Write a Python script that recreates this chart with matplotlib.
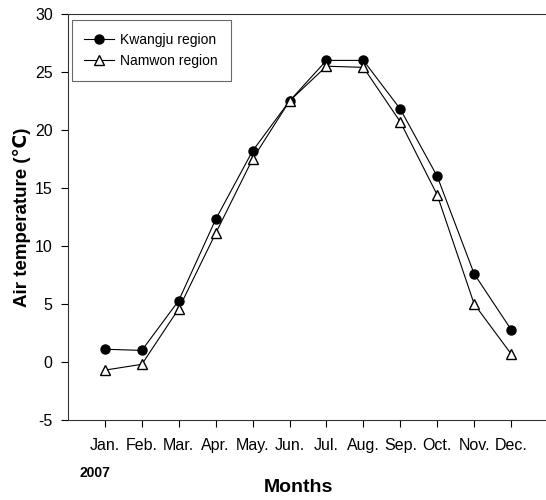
import matplotlib
matplotlib.use("Agg")
import matplotlib.pyplot as plt

plt.rcParams['font.family'] = ['Liberation Sans', 'DejaVu Sans']

months = ["Jan.", "Feb.", "Mar.", "Apr.", "May.", "Jun.", "Jul.", "Aug.", "Sep.", "Oct.", "Nov.", "Dec."]
kwangju = [1.1, 1.0, 5.3, 12.3, 18.2, 22.5, 26.0, 26.0, 21.8, 16.0, 7.6, 2.8]
namwon = [-0.7, -0.2, 4.6, 11.1, 17.5, 22.5, 25.5, 25.4, 20.7, 14.4, 5.0, 0.7]
yticks = [-5, 0, 5, 10, 15, 20, 25, 30]

fig = plt.figure(figsize=(5.46, 5.0), dpi=100)
ax = fig.add_axes([68/546, 80/500, 480/546, 406/500])

x = list(range(1, len(months) + 1))
ax.plot(x, kwangju, color='black', lw=0.8, marker='o', ms=6.5,
        mfc='black', mec='black', label='Kwangju region')
ax.plot(x, namwon, color='black', lw=0.8, marker='^', ms=7,
        mfc='white', mec='black', mew=1.0, label='Namwon region')

ax.set_xlim(0, 13)
ax.set_ylim(-5, 30)
ax.set_xticks(x)
ax.set_xticklabels(months, fontsize=11.5)
ax.set_yticks(yticks)
ax.set_yticklabels([str(v) for v in yticks], fontsize=11.5)
ax.tick_params(direction='out', length=5, width=0.8, color='black', pad=8)
ax.tick_params(axis='y', pad=6)
for s in ax.spines.values():
    s.set_linewidth(0.8)
    s.set_color('#333333')
ax.spines['right'].set_visible(False)

ax.set_ylabel('Air temperature (℃)', fontsize=13.5, fontweight='bold', labelpad=3)
fig.text(298/546, 1 - 488/500, 'Months', fontsize=14, fontweight='bold', ha='center', va='center')
fig.text(80/546, 1 - 473/500, '2007', fontsize=10, fontweight='bold', ha='left', va='center')

leg = ax.legend(loc='upper left', bbox_to_anchor=(0.008, 0.985), borderaxespad=0,
                fontsize=10, frameon=True, fancybox=False, edgecolor='#444444',
                handlelength=2.1, borderpad=0.9, labelspacing=0.55, handletextpad=0.5)
leg.get_frame().set_linewidth(0.8)

fig.savefig('out.png', dpi=100)
